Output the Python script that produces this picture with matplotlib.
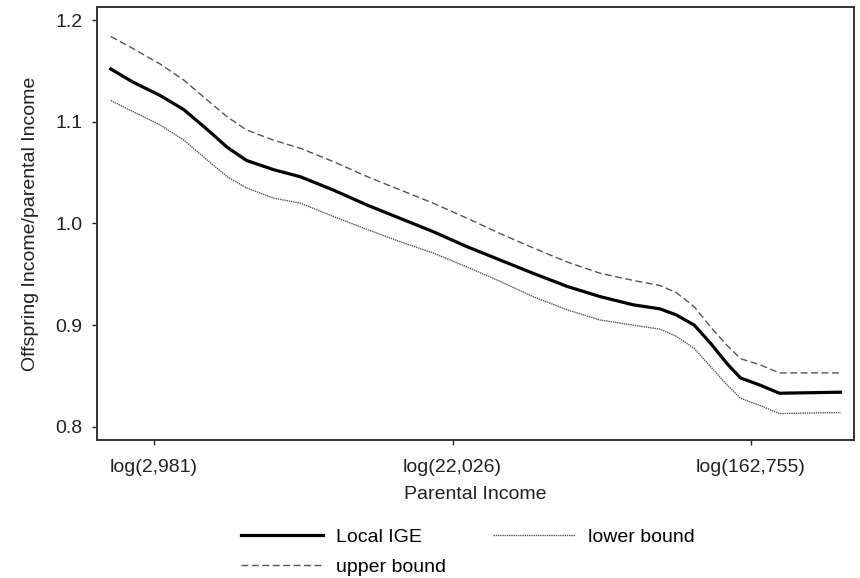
import matplotlib
matplotlib.use("Agg")
from matplotlib import pyplot as plt

plt.rcParams['font.family'] = ['Liberation Sans', 'DejaVu Sans']

# log parental income
log_income = [7.71, 7.86, 8.04, 8.20, 8.36, 8.49, 8.62, 8.80, 8.98, 9.20,
              9.43, 9.65, 9.87, 10.10, 10.32, 10.54, 10.77, 10.99, 11.21, 11.39,
              11.50, 11.62, 11.73, 11.84, 11.93, 12.06, 12.19, 12.60]
local_ige = [1.152, 1.139, 1.126, 1.112, 1.092, 1.075, 1.062, 1.053, 1.046, 1.033,
             1.018, 1.005, 0.992, 0.977, 0.964, 0.951, 0.938, 0.928, 0.920, 0.916,
             0.910, 0.900, 0.882, 0.862, 0.848, 0.841, 0.833, 0.834]
upper_bound = [1.184, 1.172, 1.157, 1.141, 1.121, 1.105, 1.092, 1.082, 1.074, 1.061,
               1.046, 1.033, 1.020, 1.005, 0.990, 0.976, 0.962, 0.951, 0.944, 0.939,
               0.932, 0.918, 0.898, 0.880, 0.867, 0.861, 0.853, 0.853]
lower_bound = [1.121, 1.110, 1.097, 1.082, 1.062, 1.046, 1.035, 1.025, 1.020, 1.007,
               0.994, 0.982, 0.971, 0.957, 0.943, 0.928, 0.915, 0.905, 0.900, 0.896,
               0.889, 0.877, 0.859, 0.841, 0.828, 0.821, 0.813, 0.814]

x_ticks = [8, 10, 12]
x_tick_labels = ['log(2,981)', 'log(22,026)', 'log(162,755)']
y_ticks = [0.8, 0.9, 1.0, 1.1, 1.2]

fig = plt.figure(figsize=(8.6, 5.78), dpi=100)
ax = fig.add_axes([0.1128, 0.2388, 0.8802, 0.7491])

ax.plot(log_income, local_ige, color='black', lw=2.3, label='Local IGE')
ax.plot(log_income, upper_bound, color='#555555', lw=1.0, dashes=(5, 2.5), label='upper bound')
ax.plot(log_income, lower_bound, color='#555555', lw=1.0, dashes=(1, 0.6), label='lower bound')

ax.set_xlim(7.618, 12.69)
ax.set_ylim(0.787, 1.213)
ax.set_xticks(x_ticks)
ax.set_xticklabels(x_tick_labels)
ax.set_yticks(y_ticks)
ax.set_yticklabels(['%.1f' % v for v in y_ticks])
ax.tick_params(labelsize=14, colors='#222222', length=3.8, width=1, direction='out')
ax.tick_params(axis='x', pad=10)
ax.tick_params(axis='y', pad=6.5)
for s in ax.spines.values():
    s.set_linewidth(1.4)
    s.set_color('#333333')

ax.set_xlabel('Parental Income', fontsize=14, color='#222222', labelpad=7)
ax.set_ylabel('Offspring Income/parental Income', fontsize=14, color='#222222', labelpad=12)

fig.legend(loc='upper left', bbox_to_anchor=(241 / 860, 1 - 528 / 578), ncol=2,
           frameon=False, borderpad=0, borderaxespad=0,
           fontsize=14, handlelength=4.2, columnspacing=2.4, handletextpad=0.7,
           labelspacing=0.66)

fig.savefig('out.png', dpi=100)
